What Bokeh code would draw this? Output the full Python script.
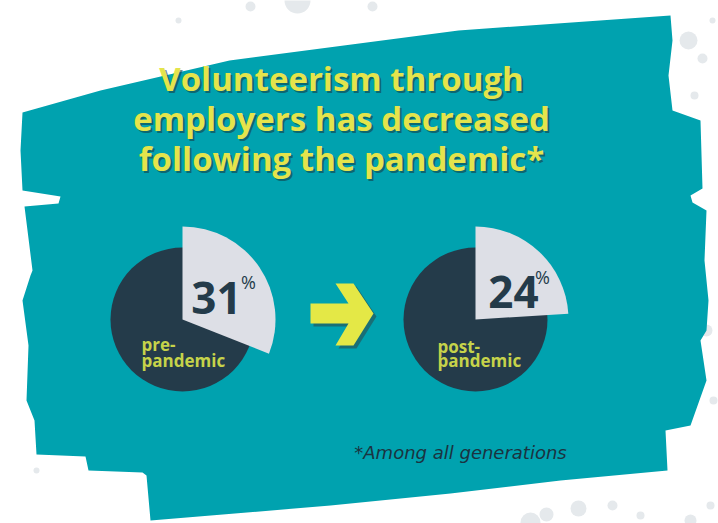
from bokeh.plotting import figure
from bokeh.models import Range1d, ColumnDataSource
from bokeh.core.properties import value
from bokeh.embed import file_html
from bokeh.resources import INLINE
import math

W, H = 718, 523

# ---- data ----
periods = ["pre-pandemic", "post-pandemic"]
shares = [31, 24]              # percent volunteering through employers
label_line1 = ["pre-", "post-"]
label_line2 = ["pandemic", "pandemic"]
title_lines = ["Volunteerism through", "employers has decreased", "following the pandemic*"]
footnote = "*Among all generations"

def Y(y):  # image (top-down) to data (bottom-up)
    return H - y

p = figure(width=W, height=H, x_range=Range1d(0, W), y_range=Range1d(0, H),
           output_backend="svg", toolbar_location=None, min_border=0,
           background_fill_color="white", border_fill_color="white")
p.axis.visible = False
p.grid.visible = False
p.outline_line_color = None

# ---- splatter dots (decoration) ----
dots = [(250, 6, 5), (297, 0, 13), (178, 20, 3), (372, 6, 5), (688, 40, 9), (702, 58, 5),
        (694, 95, 4), (712, 20, 3), (530, 522, 10), (546, 514, 7), (578, 508, 8), (612, 505, 5),
        (690, 520, 6), (710, 505, 4), (36, 470, 3), (713, 400, 4), (706, 330, 6), (640, 515, 4)]
p.scatter([d[0] for d in dots], [Y(d[1]) for d in dots], size=[2 * d[2] for d in dots],
          fill_color="#E5E9EC", line_color=None)

# ---- teal brush background (decoration) ----
bx = [22, 100, 229, 458, 670, 672, 668, 672, 700, 702, 690, 692, 706, 704, 708, 706, 700, 706, 690,
      665, 667, 560, 450, 330, 150, 146, 142, 88, 85, 36, 34, 26, 28, 22, 30, 32, 24, 58, 60, 22, 20]
by = [112, 90, 60, 30, 15, 40, 75, 110, 120, 188, 195, 202, 210, 260, 300, 330, 340, 380, 425,
      430, 470, 480, 493, 505, 520, 475, 472, 470, 456, 454, 420, 400, 345, 300, 275, 270, 206, 203, 196, 190, 150]
p.patch(bx, [Y(v) for v in by], fill_color="#00A2AF", line_color=None)

# ---- title ----
tx = 341
ty = [78, 118, 158]
p.text([tx + 2] * 3, [Y(v) - 2 for v in ty], text=title_lines, text_align="center",
       text_baseline="middle", text_font=value("Open Sans"), text_font_size="33px",
       text_font_style="bold", text_color="#134048", text_alpha=0.6)
p.text([tx] * 3, [Y(v) for v in ty], text=title_lines, text_align="center",
       text_baseline="middle", text_font=value("Open Sans"), text_font_size="33px",
       text_font_style="bold", text_color="#E4E44C")

# ---- pies ----
cx = [182, 475]
cy = [319, 319]
r_dark = 72
r_light = 93
src = ColumnDataSource(dict(
    x=cx, y=[Y(v) for v in cy],
    start=[math.pi / 2] * 2,
    end=[math.pi / 2 - 2 * math.pi * s / 100 for s in shares],
))
p.circle(x="x", y="y", radius=r_dark, fill_color="#243B4A", line_color=None, source=src)
p.wedge(x="x", y="y", radius=r_light, start_angle="start", end_angle="end", direction="clock",
        fill_color="#DDDFE6", line_color=None, source=src)

# numbers
num_x = [cx[0] + 34, cx[1] + 38]
num_y = [Y(297), Y(291)]
p.text(num_x, num_y, text=[str(s) for s in shares], text_align="center", text_baseline="middle",
       text_font=value("Open Sans"), text_font_size="44px", text_font_style="bold",
       text_color="#243B4A")
p.text([cx[0] + 66, cx[1] + 67], [Y(281), Y(276)], text=["%", "%"], text_align="center",
       text_baseline="middle", text_font=value("Open Sans"), text_font_size="18px",
       text_color="#243B4A")

# labels
lx = [cx[0] - 41, cx[1] - 38]
p.text(lx, [Y(344), Y(346)], text=label_line1, text_align="left", text_baseline="middle",
       text_font=value("Open Sans"), text_font_size="17px", text_font_style="bold",
       text_color="#C6D34A")
p.text(lx, [Y(360), Y(360)], text=label_line2, text_align="left", text_baseline="middle",
       text_font=value("Open Sans"), text_font_size="17px", text_font_style="bold",
       text_color="#C6D34A")

# ---- arrow (decoration) ----
ax = [310, 348, 335, 353, 373, 353, 335, 348, 310]
ay = [303, 303, 283, 283, 313, 345, 345, 323, 323]
p.patch([v + 3 for v in ax], [Y(v) - 3 for v in ay], fill_color="#245A5E", line_color=None, fill_alpha=0.7)
p.patch(ax, [Y(v) for v in ay], fill_color="#E4E846", line_color=None)

# ---- footnote ----
p.text([460], [Y(452)], text=[footnote], text_align="center", text_baseline="middle",
       text_font=value("DejaVu Sans"), text_font_size="18px", text_font_style="italic",
       text_color="#1B3340")

open("out.html", "w").write(file_html(p, INLINE))
